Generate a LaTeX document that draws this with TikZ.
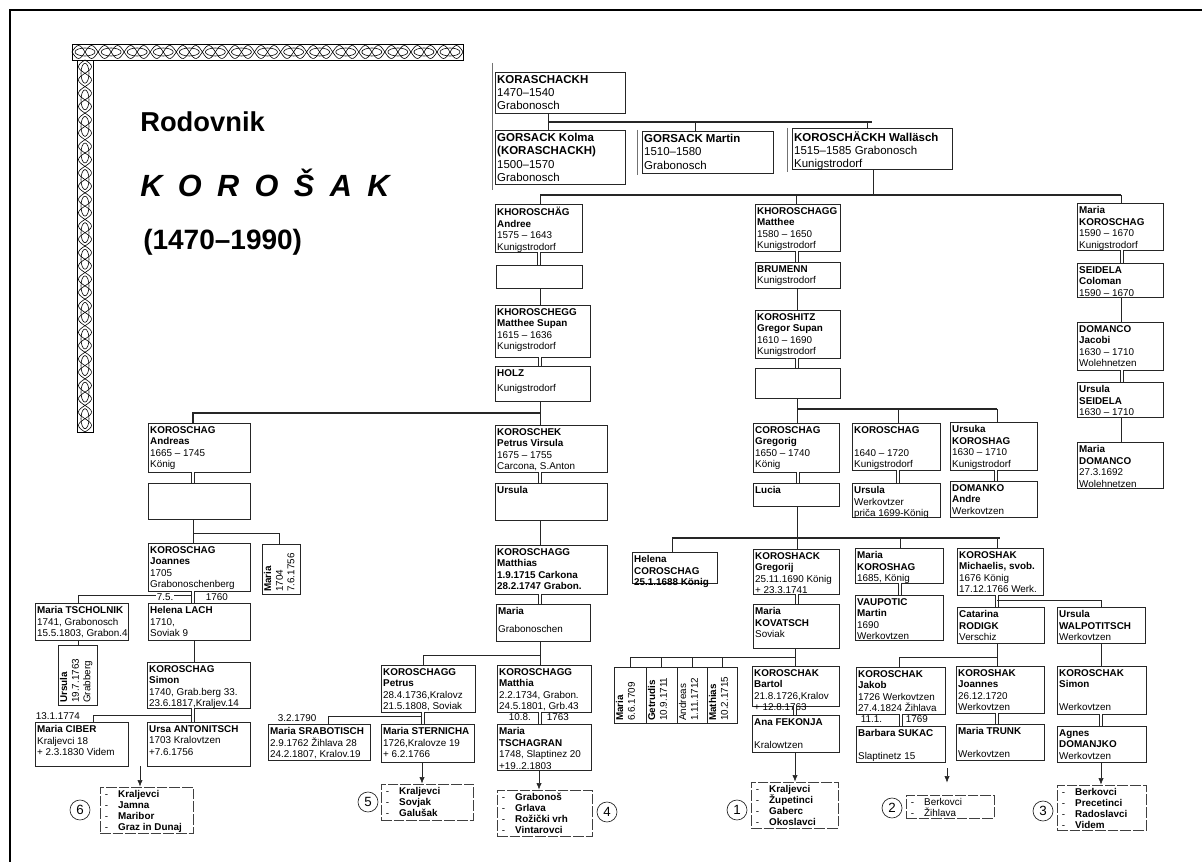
\documentclass[tikz,border=0pt]{standalone}
\usepackage{fontspec}
\setmainfont{Liberation Sans}
\usetikzlibrary{fit,arrows.meta}
\newcommand\fTop{\fontsize{8.6}{10}\selectfont}
\newcommand\fBox{\fontsize{7.4}{8.7}\selectfont}
\newcommand\fList{\fontsize{7.4}{8.2}\selectfont}
\newcommand\li[1]{\makebox[12pt][l]{\hspace{2pt}-}\textbf{#1}}
\newcommand\lr[1]{\makebox[12pt][l]{\hspace{2pt}-}#1}
\newcommand\bx[7][]{\coordinate (#2-a) at (#3,#4);\coordinate (#2-b) at (#5,#6);\node[box,fit=(#2-a)(#2-b)] (#2) {};\node[txt,#1] (#2-t) at (#2.north west) {#7};}
\newcommand\vbx[7][]{\coordinate (#2-a) at (#3,#4);\coordinate (#2-b) at (#5,#6);\node[box,fit=(#2-a)(#2-b)] (#2) {};\node[txt,rotate=90,inner ysep=1.6pt,#1] (#2-t) at (#2.south west) {#7};}
\newcommand\lbx[7][]{\coordinate (#2-a) at (#3,#4);\coordinate (#2-b) at (#5,#6);\node[lst,fit=(#2-a)(#2-b)] (#2) {};\node[txt,font=\fList,#1] (#2-t) at (#2.north west) {#7};}
\tikzset{
 box/.style={draw=black!85, line width=0.5pt, inner sep=0pt},
 txt/.style={inner xsep=1.7pt, inner ysep=2.5pt, align=left, font=\fBox, anchor=north west},
 con/.style={draw=black!85, line width=0.6pt},
 bus/.style={draw=black!85, line width=1.1pt},
 dbl/.style={draw=black!85, line width=0.45pt, double, double distance=1.6pt},
 arr/.style={draw=black!85, line width=0.5pt, -{Latex[length=5pt,width=4pt]}},
 lst/.style={draw=black!75, line width=0.5pt, dash pattern=on 8pt off 1.5pt, inner sep=0pt},
 ann/.style={font=\fBox, inner sep=0.5pt, fill=white, anchor=west},
 circ/.style={circle, draw=black!85, line width=0.5pt, minimum size=15pt, inner sep=0pt, font=\fontsize{10}{10}\selectfont},
 orn/.style={draw=black, line width=0.45pt},
 scan/.style={draw=black!55, line width=0.4pt},
}
\begin{document}
\begin{tikzpicture}[x=0.75pt,y=-0.75pt]
\useasboundingbox (0,0) rectangle (1202,862);
\fill[white] (0,0) rectangle (1202,862);
% frame
\draw[line width=1.7pt] (10,862) -- (10,10) -- (1202,10);
% ornament
\draw[orn] (72,44) rectangle (463,60);
\foreach \i in {0,...,14} \draw[orn] ({72+13.03+\i*26.07},52) ellipse (10 and 4);
\draw[orn] plot[domain=0:391, samples=240, smooth] ({72+\x},{52+6.5*sin(\x/26.07*360)});
\draw[orn] plot[domain=0:391, samples=240, smooth] ({72+\x},{52-6.5*sin(\x/26.07*360)});
\draw[orn] (77,60) rectangle (93,432);
\foreach \i in {0,...,13} \draw[orn] (85,{60+13.28+\i*26.57}) ellipse (4 and 10);
\draw[orn] plot[domain=0:372, samples=240, smooth] ({85+6.5*sin(\x/26.57*360)},{60+\x});
\draw[orn] plot[domain=0:372, samples=240, smooth] ({85-6.5*sin(\x/26.57*360)},{60+\x});
% title
\node[anchor=base west, inner sep=0, font=\fontsize{20.5}{24}\selectfont\bfseries] (t1) at (140,132) {Rodovnik};
\node[anchor=base west, inner sep=0, font=\fontsize{23}{26}\selectfont\bfseries\itshape] (t2) at (140,197) {\makebox[187pt][s]{K\hfill O\hfill R\hfill O\hfill Š\hfill A\hfill K}};
\node[anchor=base west, inner sep=0, font=\fontsize{21}{24}\selectfont\bfseries] (t3) at (143,250) {(1470–1990)};
% scan edges
\draw[scan] (492,63) -- (492,190);
\draw[scan] (637,130) -- (637,175);
\draw[scan] (787,128) -- (787,172);

% ---------- top ----------
\bx[font=\fTop]{k0}{495}{72}{625}{113}{\textbf{KORASCHACKH}\\1470–1540\\Grabonosch}
\bx[font=\fTop]{gk}{495}{130}{625}{184}{\textbf{GORSACK Kolma}\\\textbf{(KORASCHACKH)}\\1500–1570\\Grabonosch}
\bx[font=\fTop]{gm}{642}{131}{773}{173}{\textbf{GORSACK Martin}\\1510–1580\\Grabonosch}
\bx[font=\fTop]{kw}{792}{128}{952}{169}{\textbf{KOROSCHÄCKH Walläsch}\\1515–1585 Grabonosch\\Kunigstrodorf}

% ---------- Andree column ----------
\bx{an}{495}{204}{582}{252}{\textbf{KHOROSCHÄG}\\\textbf{Andree}\\1575 – 1643\\Kunigstrodorf}
\bx{e1}{496}{265}{582}{288}{}
\bx{ms}{495}{305}{590}{357}{\textbf{KHOROSCHEGG}\\\textbf{Matthee Supan}\\1615 – 1636\\Kunigstrodorf}
\bx{hz}{495}{366}{590}{401}{\textbf{HOLZ}\\[3pt]Kunigstrodorf}

% ---------- Matthee column ----------
\bx{mt}{755}{204}{840}{251}{\textbf{KHOROSCHAGG}\\\textbf{Matthee}\\1580 – 1650\\Kunigstrodorf}
\bx{br}{755}{262}{840}{288}{\textbf{BRUMENN}\\Kunigstrodorf}
\bx{gs}{755}{310}{840}{358}{\textbf{KOROSHITZ}\\\textbf{Gregor Supan}\\1610 – 1690\\Kunigstrodorf}
\bx{e2}{755}{368}{840}{398}{}

% ---------- right column ----------
\bx{mk}{1077}{203}{1163}{250}{\textbf{Maria}\\\textbf{KOROSCHAG}\\1590 – 1670\\Kunigstrodorf}
\bx{sc}{1077}{263}{1163}{297}{\textbf{SEIDELA}\\\textbf{Coloman}\\1590 – 1670}
\bx{dj}{1077}{322}{1163}{370}{\textbf{DOMANCO}\\\textbf{Jacobi}\\1630 – 1710\\Wolehnetzen}
\bx{us}{1077}{382}{1163}{417}{\textbf{Ursula}\\\textbf{SEIDELA}\\1630 – 1710}
\bx{md}{1077}{442}{1163}{488}{\textbf{Maria}\\\textbf{DOMANCO}\\27.3.1692\\Wolehnetzen}

% ---------- Andreas column ----------
\bx{ad}{148}{423}{250}{472}{\textbf{KOROSCHAG}\\\textbf{Andreas}\\1665 – 1745\\König}
\bx{e3}{148}{483}{250}{519}{}
\bx{jo}{148}{543}{250}{591}{\textbf{KOROSCHAG}\\\textbf{Joannes}\\1705\\Grabonoschenberg}
\vbx{m04}{262}{544}{300}{594}{\textbf{Maria}\\1704\\7.6.1756}
\bx{hl}{148}{603}{250}{640}{\textbf{Helena LACH}\\1710,\\Soviak 9}
\bx{mts}{35}{603}{128}{640}{\textbf{Maria TSCHOLNIK}\\1741, Grabonosch\\15.5.1803, Grabon.4}
\vbx{u63}{58}{645}{97}{705}{\textbf{Ursula}\\19.7.1763\\Grabberg}
\bx{si}{147}{662}{250}{708}{\textbf{KOROSCHAG}\\\textbf{Simon}\\1740, Grab.berg 33.\\23.6.1817,Kraljev.14}
\bx{mc}{35}{722}{128}{766}{\textbf{Maria CIBER}\\Kraljevci 18\\+ 2.3.1830 Videm}
\bx{ua}{147}{722}{250}{766}{\textbf{Ursa ANTONITSCH}\\1703 Kralovtzen\\+7.6.1756}
\lbx{L6}{100}{787}{193}{833}{\li{Kraljevci}\\\li{Jamna}\\\li{Maribor}\\\li{Graz in Dunaj}}

% ---------- Petrus Virsula column ----------
\bx{pv}{495}{425}{607}{472}{\textbf{KOROSCHEK}\\\textbf{Petrus Virsula}\\1675 – 1755\\Carcona, S.Anton}
\bx{ur}{495}{483}{607}{520}{\textbf{Ursula}}
\bx{mh}{495}{545}{607}{594}{\textbf{KOROSCHAGG}\\\textbf{Matthias}\\\textbf{1.9.1715 Carkona}\\\textbf{28.2.1747 Grabon.}}
\bx{mg}{496}{604}{590}{641}{\textbf{Maria}\\[5pt]Grabonoschen}
\bx{pe}{381}{665}{475}{712}{\textbf{KOROSCHAGG}\\\textbf{Petrus}\\28.4.1736,Kralovz\\21.5.1808, Soviak}
\bx{ma}{497}{665}{591}{712}{\textbf{KOROSCHAGG}\\\textbf{Matthia}\\2.2.1734, Grabon.\\24.5.1801, Grb.43}
\bx{sr}{268}{724}{370}{760}{\textbf{Maria SRABOTISCH}\\2.9.1762 Žihlava 28\\24.2.1807, Kralov.19}
\bx{st}{381}{724}{474}{762}{\textbf{Maria STERNICHA}\\1726,Kralovze 19\\+ 6.2.1766}
\bx{tg}{497}{724}{591}{770}{\textbf{Maria}\\\textbf{TSCHAGRAN}\\1748, Slaptinez 20\\+19..2.1803}
\lbx{L5}{381}{784}{473}{820}{\li{Kraljevci}\\\li{Sovjak}\\\li{Galušak}}
\lbx{L4}{497}{790}{592}{836}{\li{Grabonoš}\\\li{Grlava}\\\li{Rožički vrh}\\\li{Vintarovci}}

% ---------- Gregorig column ----------
\bx{gg}{753}{423}{839}{472}{\textbf{COROSCHAG}\\\textbf{Gregorig}\\1650 – 1740\\König}
\bx{k40}{852}{423}{940}{470}{\textbf{KOROSCHAG}\\~\\1640 – 1720\\Kunigstrodorf}
\bx{uk}{950}{422}{1037}{470}{\textbf{Ursuka}\\\textbf{KOROSHAG}\\1630 – 1710\\Kunigstrodorf}
\bx{lu}{753}{483}{839}{506}{\textbf{Lucia}}
\bx{uw}{852}{483}{940}{517}{\textbf{Ursula}\\Werkovtzer\\priča 1699-König}
\bx{da}{950}{481}{1037}{517}{\textbf{DOMANKO}\\\textbf{Andre}\\Werkovtzen}
\bx{hc}{632}{552}{717}{583}{\textbf{Helena}\\\textbf{COROSCHAG}\\\textbf{25.1.1688 König}}
\bx{gj}{753}{549}{839}{594}{\textbf{KOROSHACK}\\\textbf{Gregorij}\\25.11.1690 König\\+ 23.3.1741}
\bx{mko}{855}{548}{943}{583}{\textbf{Maria}\\\textbf{KOROSHAG}\\1685, König}
\bx{mi}{957}{548}{1043}{595}{\textbf{KOROSHAK}\\\textbf{Michaelis, svob.}\\1676 König\\17.12.1766 Werk.}
\bx{kv}{753}{604}{839}{648}{\textbf{Maria}\\\textbf{KOVATSCH}\\Soviak}
\bx{va}{855}{595}{943}{640}{\textbf{VAUPOTIC}\\\textbf{Martin}\\1690\\Werkovtzen}
\bx{ca}{957}{607}{1044}{643}{\textbf{Catarina}\\\textbf{RODIGK}\\Verschiz}
\bx{wa}{1057}{607}{1145}{643}{\textbf{Ursula}\\\textbf{WALPOTITSCH}\\Werkovtzen}
\vbx{v1}{614}{667}{646}{723}{\textbf{Maria}\\6.6.1709}
\vbx{v2}{646}{667}{677}{723}{\textbf{Getrudis}\\10.9.1711}
\vbx{v3}{677}{667}{707}{723}{Andreas\\1.11.1712}
\vbx{v4}{707}{667}{737}{723}{\textbf{Mathias}\\10.2.1715}
\bx{ba}{752}{666}{839}{706}{\textbf{KOROSCHAK}\\\textbf{Bartol}\\21.8.1726,Kralov\\+ 12.8.1763}
\bx{af}{752}{715}{839}{752}{\textbf{Ana FEKONJA}\\~\\Kralowtzen}
\lbx{L1}{751}{782}{838}{828}{\li{Kraljevci}\\\li{Župetinci}\\\li{Gaberc}\\\li{Okoslavci}}
\bx{jk}{856}{667}{945}{714}{\textbf{KOROSCHAK}\\\textbf{Jakob}\\1726 Werkovtzen\\27.4.1824 Žihlava}
\bx{bs}{856}{726}{945}{762}{\textbf{Barbara SUKAC}\\~\\Slaptinetz 15}
\lbx{L2}{906}{795}{994}{818}{\lr{Berkovci}\\\lr{Žihlava}}
\bx{jn}{956}{666}{1044}{713}{\textbf{KOROSHAK}\\\textbf{Joannes}\\26.12.1720\\Werkovtzen}
\bx{mtr}{956}{724}{1044}{760}{\textbf{Maria TRUNK}\\~\\Werkovtzen}
\bx{sk}{1057}{666}{1146}{714}{\textbf{KOROSCHAK}\\\textbf{Simon}\\~\\Werkovtzen}
\bx{dm}{1057}{726}{1146}{762}{\textbf{Agnes}\\\textbf{DOMANJKO}\\Werkovtzen}
\lbx{L3}{1057}{785}{1146}{830}{\li{Berkovci}\\\li{Precetinci}\\\li{Radoslavci}\\\li{Videm}}

% ---------- connectors: top ----------
\draw[con] (k0.south -| 548,0) -- (gk.north -| 548,0);
\draw[bus] (548,122) -- (872,122);
\draw[con] (695,122) -- (gm.north -| 695,0);
\draw[con] (867,122) -- (kw.north -| 867,0);
\draw[con] (kw.south -| 873,0) -- (873,195);
\draw[bus] (540,195) -- (1121,195);
\draw[con] (540,195) -- (an.north -| 540,0);
\draw[con] (796,195) -- (mt.north -| 796,0);
\draw[con] (1121,195) -- (mk.north -| 1121,0);
% Andree column
\draw[dbl] (an.south -| 539,0) -- (e1.north -| 539,0);
\draw[con] (e1.south -| 540,0) -- (ms.north -| 540,0);
\draw[dbl] (ms.south -| 540,0) -- (hz.north -| 540,0);
\draw[con] (hz.south -| 540,0) -- (pv.north -| 540,0);
\draw[bus] (540,413) -| (ad.north -| 193,0);
% Matthee column
\draw[dbl] (mt.south -| 797,0) -- (br.north -| 797,0);
\draw[con] (br.south -| 797,0) -- (gs.north -| 797,0);
\draw[dbl] (gs.south -| 797,0) -- (e2.north -| 797,0);
\draw[con] (e2.south -| 797,0) -- (gg.north -| 797,0);
\draw[bus] (797,409) -- (997,409);
\draw[con] (898,409) -- (k40.north -| 898,0);
\draw[con] (997,409) -- (uk.north -| 997,0);
% right column
\draw[dbl] (mk.south -| 1122,0) -- (sc.north -| 1122,0);
\draw[con] (sc.south -| 1121,0) -- (dj.north -| 1121,0);
\draw[dbl] (dj.south -| 1122,0) -- (us.north -| 1122,0);
\draw[con] (us.south -| 1121,0) -- (md.north -| 1121,0);
% Andreas column
\draw[dbl] (ad.south -| 193,0) -- (e3.north -| 193,0);
\draw[con] (e3.south -| 193,0) -- (jo.north -| 193,0);
\draw[con] (193,533) -| (m04.north -| 279,0);
\draw[dbl] (jo.south -| 193,0) -- (hl.north -| 193,0);
\draw[con] (191,595) -| (mts.north -| 78,0);
\node[ann] (a75) at (156,597) {7.5.};
\node[ann] (a1760) at (205,597) {1760};
\draw[con] (hl.south -| 194,0) -- (si.north -| 194,0);
\draw[con] (mts.south -| 78,0) -- (u63.north -| 78,0);
\draw[dbl] (si.south -| 193,0) -- (ua.north -| 193,0);
\draw[con] (191,715) -| (mc.north -| 93,0);
\node[ann] (a1774) at (35,716) {13.1.1774};
\draw[arr] (mc.south -| 140,0) -- (L6.north -| 140,0);
% Petrus Virsula column
\draw[dbl] (pv.south -| 540,0) -- (ur.north -| 540,0);
\draw[con] (ur.south -| 540,0) -- (mh.north -| 540,0);
\draw[dbl] (mh.south -| 540,0) -- (mg.north -| 540,0);
\draw[con] (mg.south -| 540,0) -- (ma.north -| 540,0);
\draw[con] (540,655) -| (pe.north -| 423,0);
\draw[dbl] (pe.south -| 423,0) -- (st.north -| 423,0);
\draw[con] (421,716) -| (sr.north -| 328,0);
\node[ann] (a1790) at (277,718) {3.2.1790};
\draw[arr] (st.south -| 422,0) -- (L5.north -| 422,0);
\draw[dbl] (ma.south -| 540,0) -- (tg.north -| 540,0);
\node[ann] (a108) at (508,717) {10.8.};
\node[ann] (a1763) at (546,717) {1763};
\draw[arr] (tg.south -| 539,0) -- (L4.north -| 539,0);
% Gregorig column
\draw[dbl] (gg.south -| 798,0) -- (lu.north -| 798,0);
\draw[dbl] (k40.south -| 898,0) -- (uw.north -| 898,0);
\draw[dbl] (uk.south -| 996,0) -- (da.north -| 996,0);
\draw[con] (lu.south -| 797,0) -- (gj.north -| 797,0);
\draw[bus] (672,538) -- (1000,538);
\draw[con] (672,538) -- (hc.north -| 672,0);
\draw[con] (900,538) -- (mko.north -| 900,0);
\draw[con] (997,538) -- (mi.north -| 997,0);
\draw[dbl] (gj.south -| 797,0) -- (kv.north -| 797,0);
\draw[dbl] (mko.south -| 900,0) -- (va.north -| 900,0);
\draw[dbl] (mi.south -| 997,0) -- (ca.north -| 997,0);
\draw[con] (997,600) -| (wa.north -| 1101,0);
\draw[con] (kv.south -| 795,0) -- (ba.north -| 795,0);
\draw[con] (630,657) -- (795,657);
\draw[con] (630,657) -- (v1.north -| 630,0);
\draw[con] (661,657) -- (v2.north -| 661,0);
\draw[con] (692,657) -- (v3.north -| 692,0);
\draw[con] (722,657) -- (v4.north -| 722,0);
\draw[dbl] (ba.south -| 795,0) -- (af.north -| 795,0);
\draw[arr] (af.south -| 795,0) -- (L1.north -| 795,0);
\draw[con] (ca.south -| 997,0) -- (jn.north -| 997,0);
\draw[con] (997,657) -| (jk.north -| 899,0);
\draw[dbl] (jk.south -| 901,0) -- (bs.north -| 901,0);
\node[ann] (a111) at (860,719) {11.1.};
\node[ann] (a1769) at (905,719) {1769};
\draw[arr, shorten <=4.5pt, shorten >=9pt] (bs.south -| 947,0) -- (L2.north -| 947,0);
\draw[dbl] (jn.south -| 997,0) -- (mtr.north -| 997,0);
\draw[con] (wa.south -| 1101,0) -- (sk.north -| 1101,0);
\draw[dbl] (sk.south -| 1101,0) -- (dm.north -| 1101,0);
\draw[arr] (dm.south -| 1101,0) -- (L3.north -| 1101,0);
% circled numbers
\node[circ] (c6) at (80,810) {6};
\node[circ] (c5) at (368,802) {5};
\node[circ] (c4) at (607,812) {4};
\node[circ] (c1) at (737,810) {1};
\node[circ] (c2) at (892,808) {2};
\node[circ] (c3) at (1043,811) {3};
\end{tikzpicture}
\end{document}
